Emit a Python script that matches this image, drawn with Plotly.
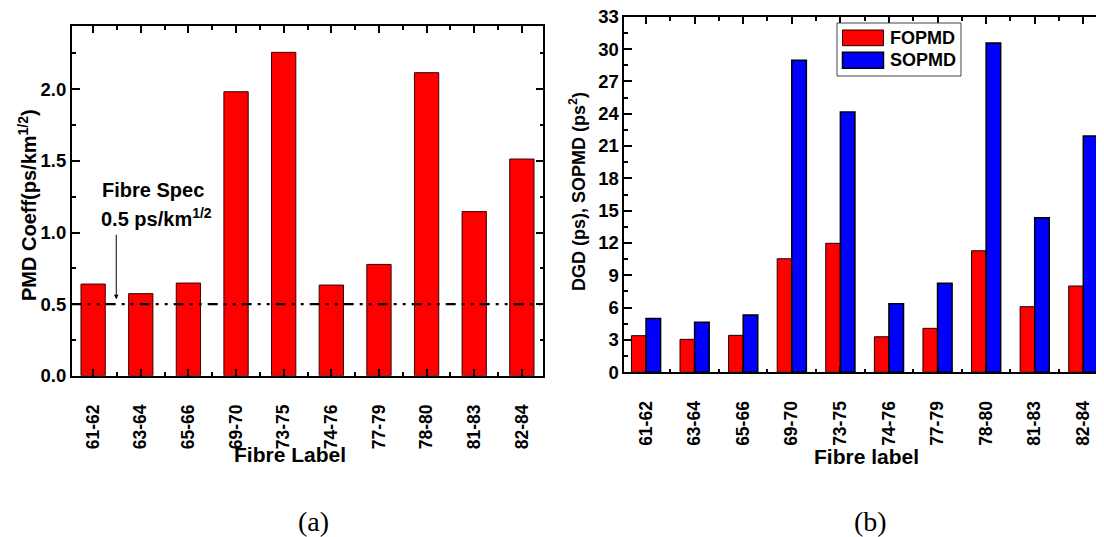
import plotly.graph_objects as go

# ---------------- data ----------------
fibre_labels = ["61-62", "63-64", "65-66", "69-70", "73-75",
                "74-76", "77-79", "78-80", "81-83", "82-84"]
pmd_coeff = [0.640, 0.573, 0.647, 1.983, 2.258, 0.633, 0.777, 2.116, 1.146, 1.513]
fopmd = [3.40, 3.06, 3.43, 10.54, 11.97, 3.30, 4.08, 11.28, 6.09, 8.01]
sopmd = [5.00, 4.64, 5.31, 28.97, 24.15, 6.36, 8.26, 30.57, 14.34, 21.92]
fibre_spec = 0.5
left_yticks = [0.0, 0.5, 1.0, 1.5, 2.0]
right_yticks = list(range(0, 34, 3))

W, H = 1104, 537
OFF = 8  # default page body margin of the html page
FONT = "Liberation Sans, Arial, sans-serif"
SERIF = "Liberation Serif, Times New Roman, serif"


def px(x):
    return (x - OFF) / W


def py(y):
    return 1 - (y - OFF) / H


xpos = list(range(len(fibre_labels)))

fig = go.Figure()

fig.add_trace(go.Bar(
    x=xpos, y=pmd_coeff, width=0.51, name="PMD Coeff",
    marker=dict(color="#FF0000", line=dict(color="#3a0000", width=1)),
    xaxis="x", yaxis="y", showlegend=False))

fig.add_trace(go.Bar(
    x=xpos, y=fopmd, name="FOPMD",
    marker=dict(color="#FF0000", line=dict(color="#200000", width=1)),
    xaxis="x2", yaxis="y2", showlegend=False))
fig.add_trace(go.Bar(
    x=xpos, y=sopmd, name="SOPMD",
    marker=dict(color="#0000FF", line=dict(color="#000000", width=1.5)),
    xaxis="x2", yaxis="y2", showlegend=False))

common_x = dict(
    tickmode="array", tickvals=xpos, ticktext=fibre_labels, tickangle=-90,
    ticks="inside", ticklen=7, tickwidth=1.5, tickcolor="black",
    showline=True, linewidth=1.6, linecolor="black", mirror="ticks",
    showgrid=False, zeroline=False, automargin=False,
    tickfont=dict(family=FONT, size=17.5, color="black", weight="bold"),
    minor=dict(tickvals=[i + 0.5 for i in xpos[:-1]], ticks="inside",
               ticklen=4, tickwidth=1.5, tickcolor="black", showgrid=False),
    ticklabelstandoff=20, ticklabeloverflow="allow",
)
common_y = dict(
    ticks="inside", ticklen=8, tickwidth=1.5, tickcolor="black",
    showline=True, linewidth=1.6, linecolor="black", mirror="ticks",
    showgrid=False, zeroline=False, automargin=False,
    tickfont=dict(family=FONT, size=18.5, color="black", weight="bold"),
    ticklabeloverflow="allow",
)

fig.update_layout(
    width=W, height=H, autosize=False,
    margin=dict(l=0, r=0, t=0, b=0, pad=0),
    paper_bgcolor="white", plot_bgcolor="white",
    barmode="group", bargap=0.4, bargroupgap=0.0,
    showlegend=False,
    xaxis=dict(domain=[px(71.7), px(543.3)], range=[-0.45, 9.45], anchor="y",
               **common_x),
    yaxis=dict(domain=[py(375.7), py(26)], range=[0, 2.442], anchor="x",
               tickmode="array", tickvals=left_yticks, tickformat=".1f",
               minor=dict(dtick=0.25, ticks="inside", ticklen=4, tickwidth=1.5,
                          tickcolor="black", showgrid=False),
               **common_y),
    xaxis2=dict(domain=[px(624.3), px(1105)], range=[-0.447, 9.447], anchor="y2",
                **common_x),
    yaxis2=dict(domain=[py(372.3), py(16.7)], range=[0, 33], anchor="x2",
                tickmode="array", tickvals=right_yticks,
                minor=dict(dtick=1.5, ticks="inside", ticklen=4, tickwidth=1.5,
                           tickcolor="black", showgrid=False),
                **common_y),
)

# Fibre spec dash-dot reference line
fig.add_shape(type="line", xref="x domain", yref="y", x0=0, x1=1,
              y0=fibre_spec, y1=fibre_spec, layer="above",
              line=dict(color="black", width=2.2, dash="10px,6px,3px,6px,3px,6px"))

annotations = []
# arrow
annotations.append(dict(x=0.485, y=0.534, xref="x", yref="y", text="",
                        showarrow=True, ax=0, ay=-66, arrowhead=2,
                        arrowsize=0.9, arrowwidth=1, arrowcolor="black"))
annotations.append(dict(x=px(100), y=py(190), xref="paper", yref="paper",
                        text="<b>Fibre Spec</b>", showarrow=False,
                        xanchor="left", yanchor="middle",
                        font=dict(family=FONT, size=20, color="black")))
annotations.append(dict(x=px(99), y=py(218), xref="paper", yref="paper",
                        text="<b>0.5 ps/km<sup>1/2</sup></b>", showarrow=False,
                        xanchor="left", yanchor="middle",
                        font=dict(family=FONT, size=20, color="black")))
# axis titles
annotations.append(dict(x=px(290), y=py(454), xref="paper", yref="paper",
                        text="<b>Fibre Label</b>", showarrow=False,
                        xanchor="center", yanchor="middle",
                        font=dict(family=FONT, size=21, color="black")))
annotations.append(dict(x=px(866), y=py(456), xref="paper", yref="paper",
                        text="<b>Fibre label</b>", showarrow=False,
                        xanchor="center", yanchor="middle",
                        font=dict(family=FONT, size=21, color="black")))
annotations.append(dict(x=px(27), y=py(205), xref="paper", yref="paper",
                        text="<b>PMD Coeff(ps/km<sup>1/2</sup>)</b>", showarrow=False,
                        textangle=-90, xanchor="center", yanchor="middle",
                        font=dict(family=FONT, size=20, color="black")))
annotations.append(dict(x=px(577), y=py(192), xref="paper", yref="paper",
                        text="<b>DGD (ps), SOPMD (ps<sup>2</sup>)</b>", showarrow=False,
                        textangle=-90, xanchor="center", yanchor="middle",
                        font=dict(family=FONT, size=18, color="black")))
# panel labels
annotations.append(dict(x=px(313), y=py(521), xref="paper", yref="paper",
                        text="(a)", showarrow=False, xanchor="center", yanchor="middle",
                        font=dict(family=SERIF, size=28, color="black")))
annotations.append(dict(x=px(870), y=py(521), xref="paper", yref="paper",
                        text="(b)", showarrow=False, xanchor="center", yanchor="middle",
                        font=dict(family=SERIF, size=28, color="black")))

# custom legend (wide swatches like the original)
fig.add_shape(type="rect", xref="paper", yref="paper",
              x0=px(837), x1=px(961), y0=py(76), y1=py(23),
              line=dict(color="#444444", width=1), fillcolor="white", layer="above")
legend_items = [("FOPMD", "#FF0000", 30, 45.7, "#200000", 1),
                ("SOPMD", "#0000FF", 52.3, 68.3, "#000000", 1.5)]
for name, col, y0, y1, lc, lw in legend_items:
    fig.add_shape(type="rect", xref="paper", yref="paper",
                  x0=px(842.5), x1=px(883.5), y0=py(y1), y1=py(y0),
                  fillcolor=col, line=dict(color=lc, width=lw), layer="above")
    annotations.append(dict(x=px(888), y=py((y0 + y1) / 2), xref="paper", yref="paper",
                            text="<b>%s</b>" % name, showarrow=False,
                            xanchor="left", yanchor="middle",
                            font=dict(family=FONT, size=18, color="black")))

fig.update_layout(annotations=annotations)

fig.write_html("out.html")
